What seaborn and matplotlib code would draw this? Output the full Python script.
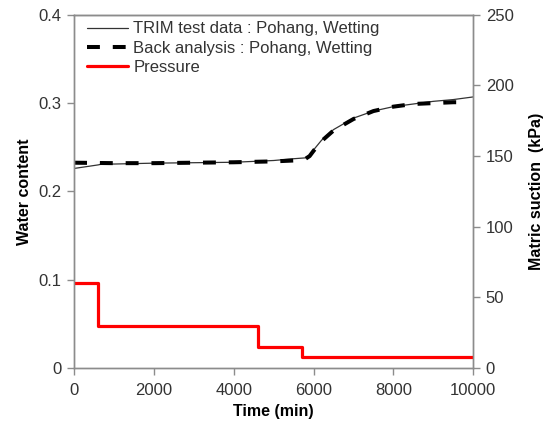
import matplotlib
matplotlib.use("Agg")
import matplotlib.pyplot as plt
import seaborn as sns
import pandas as pd
from matplotlib.lines import Line2D

# ---- data ----
test_time = [0, 300, 600, 700, 1000, 2000, 3000, 4000, 5000, 5500, 5800, 5900, 6000,
             6200, 6500, 7000, 7500, 8000, 8500, 9000, 9500, 10000]
test_wc = [0.226, 0.228, 0.230, 0.231, 0.231, 0.232, 0.2325, 0.233, 0.235, 0.237, 0.238,
           0.241, 0.247, 0.258, 0.270, 0.283, 0.291, 0.296, 0.299, 0.302, 0.304, 0.307]

back_time = [0, 1000, 2000, 3000, 4000, 5000, 5500, 5800, 5900, 6000, 6200, 6500, 7000,
             7500, 8000, 8500, 9000, 9500, 9700]
back_wc = [0.2325, 0.232, 0.232, 0.2325, 0.233, 0.234, 0.235, 0.237, 0.240, 0.246, 0.257,
           0.269, 0.282, 0.291, 0.296, 0.299, 0.300, 0.301, 0.301]

press_time = [0, 600, 4600, 5700, 10000]
press_kpa = [60, 30, 15, 8, 8]

sns.set_theme(style="white")
plt.rcParams['font.family'] = ['Liberation Sans', 'DejaVu Sans']

df_test = pd.DataFrame({"t": test_time, "w": test_wc})
df_back = pd.DataFrame({"t": back_time, "w": back_wc})
df_press = pd.DataFrame({"t": press_time, "p": press_kpa})

fig = plt.figure(figsize=(5.49, 4.23), dpi=100)
ax = fig.add_axes([0.135, 0.130, 0.727, 0.835])
ax2 = ax.twinx()

sns.lineplot(data=df_test, x="t", y="w", ax=ax, color="#333333", lw=0.9)
sns.lineplot(data=df_back, x="t", y="w", ax=ax, color="black", lw=2.9)
ax.lines[-1].set_dashes((3.2, 3.2))
sns.lineplot(data=df_press, x="t", y="p", ax=ax2, color="#ff0000", lw=2.3,
             drawstyle="steps-post")

ax.set_xlim(0, 10000)
ax.set_ylim(0, 0.4)
ax2.set_ylim(0, 250)
ax.set_xticks([0, 2000, 4000, 6000, 8000, 10000])
ax.set_yticks([0, 0.1, 0.2, 0.3, 0.4])
ax.set_yticklabels(["0", "0.1", "0.2", "0.3", "0.4"])
ax2.set_yticks([0, 50, 100, 150, 200, 250])

gray = "#8c8c8c"
for a in (ax, ax2):
    for s in a.spines.values():
        s.set_color(gray)
        s.set_linewidth(1.0)
    a.tick_params(axis="both", which="major", direction="out", length=5, width=1,
                  color=gray, labelsize=12, labelcolor="#333333", pad=4)
ax.tick_params(left=True, bottom=True)
ax.tick_params(axis="x", pad=6)
ax2.tick_params(right=True)
ax.spines["top"].set_color("#555555")

ax.set_xlabel("Time (min)", fontsize=11.5, fontweight="bold", color="black", labelpad=4)
ax.set_ylabel("Water content", fontsize=11.5, fontweight="bold", color="black", labelpad=5)
ax2.set_ylabel("Matric suction  (kPa)", fontsize=11.5, fontweight="bold", color="black",
               labelpad=11)

handles = [
    Line2D([], [], color="#333333", lw=0.9),
    Line2D([], [], color="black", lw=2.9, dashes=(3.2, 3.2)),
    Line2D([], [], color="#ff0000", lw=2.3),
]
labels = ["TRIM test data : Pohang, Wetting", "Back analysis : Pohang, Wetting", "Pressure"]
leg = ax.legend(handles, labels, loc="upper left", frameon=False, fontsize=12,
                handlelength=2.5, handletextpad=0.3, labelspacing=0.25,
                borderaxespad=0.0, bbox_to_anchor=(0.015, 1.0))
for t in leg.get_texts():
    t.set_color("#333333")

fig.savefig("out.png", dpi=100)
